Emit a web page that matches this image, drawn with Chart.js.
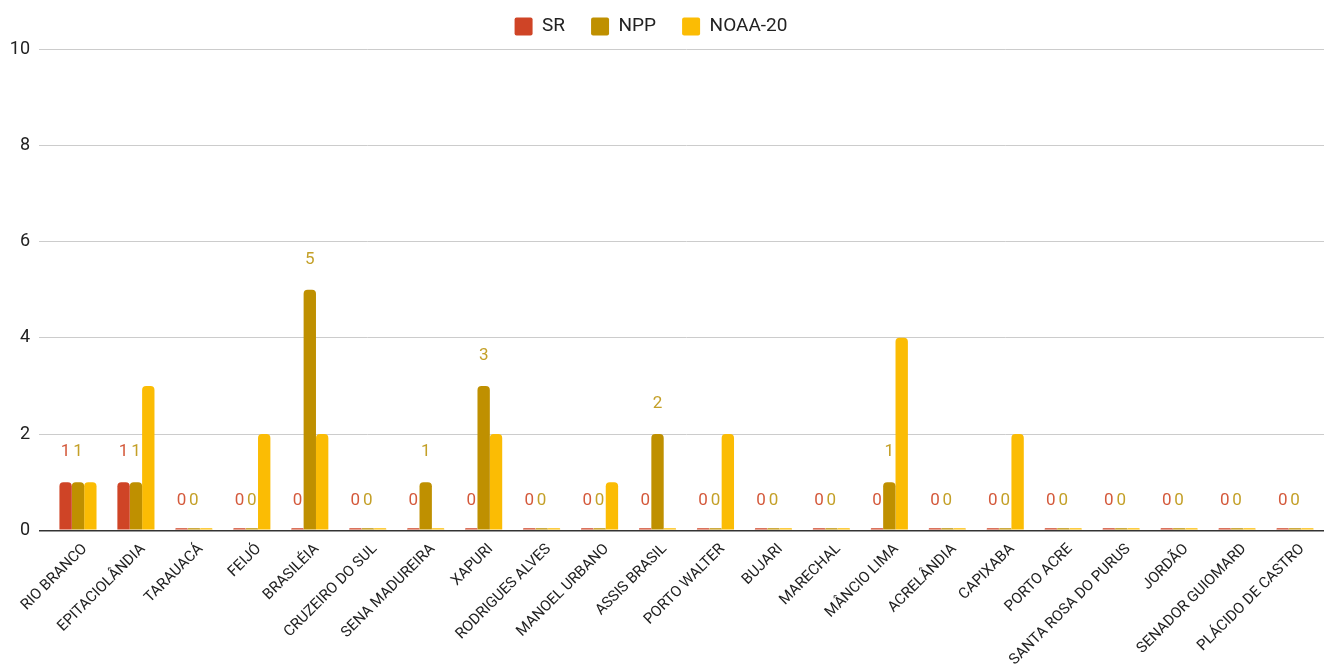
<!DOCTYPE html>
<html>
<head>
<meta charset="utf-8">
<script src="https://cdn.jsdelivr.net/npm/chart.js@4.4.1/dist/chart.umd.min.js"></script>
<style>
  html, body { margin: 0; padding: 0; background: #fff; }
  #wrap { width: 1324px; height: 667px; position: relative; }
</style>
</head>
<body>
<div id="wrap"><canvas id="chart"></canvas></div>
<script>
// Cities (categories)
const cities = [
    'RIO BRANCO', 'EPITACIOLÂNDIA', 'TARAUACÁ', 'FEIJÓ', 'BRASILÉIA', 'CRUZEIRO DO SUL',
    'SENA MADUREIRA', 'XAPURI', 'RODRIGUES ALVES', 'MANOEL URBANO', 'ASSIS BRASIL',
    'PORTO WALTER', 'BUJARI', 'MARECHAL', 'MÂNCIO LIMA', 'ACRELÂNDIA', 'CAPIXABA',
    'PORTO ACRE', 'SANTA ROSA DO PURUS', 'JORDÃO', 'SENADOR GUIOMARD', 'PLÁCIDO DE CASTRO'
];

// Series values
const srValues   = [1, 1, 0, 0, 0, 0, 0, 0, 0, 0, 0, 0, 0, 0, 0, 0, 0, 0, 0, 0, 0, 0];
const nppValues  = [1, 1, 0, 0, 5, 0, 1, 3, 0, 0, 2, 0, 0, 0, 1, 0, 0, 0, 0, 0, 0, 0];
const noaaValues = [1, 3, 0, 2, 2, 0, 0, 2, 0, 1, 0, 2, 0, 0, 4, 0, 2, 0, 0, 0, 0, 0];

// Y axis ticks
const yTicks = [0, 2, 4, 6, 8, 10];

const FONT = 'Roboto';

// Value labels above the SR and NPP bars
const valueLabels = {
    id: 'valueLabels',
    afterInit(chart) {
        const legend = chart.legend;
        if (legend) {
            // a bit more room under the legend
            const fit = legend.fit;
            legend.fit = function () {
                fit.call(this);
                this.height += 3;
            };
            // legend sits slightly left of the canvas centre
            const draw = legend.draw;
            legend.draw = function () {
                this.ctx.save();
                this.ctx.translate(-11, 0);
                draw.call(this);
                this.ctx.restore();
            };
        }
    },
    afterDatasetsDraw(chart) {
        const ctx = chart.ctx;
        const yScale = chart.scales.y;
        const labelColors = ['#d4593b', '#c4a028'];
        ctx.save();
        ctx.font = '17px ' + FONT;
        ctx.textAlign = 'center';
        ctx.textBaseline = 'middle';
        [0, 1].forEach(i => {
            const meta = chart.getDatasetMeta(i);
            const data = chart.data.datasets[i].data;
            ctx.fillStyle = labelColors[i];
            meta.data.forEach((bar, j) => {
                const y = yScale.getPixelForValue(data[j]) - 30;
                ctx.fillText(String(data[j]), bar.x, y);
            });
        });
        ctx.restore();
    }
};

const ctx = document.getElementById('chart').getContext('2d');
new Chart(ctx, {
    type: 'bar',
    data: {
        labels: cities,
        datasets: [
            { label: 'SR', data: srValues, backgroundColor: '#cf4426' },
            { label: 'NPP', data: nppValues, backgroundColor: '#bf9000' },
            { label: 'NOAA-20', data: noaaValues, backgroundColor: '#fbbc04' }
        ]
    },
    options: {
        responsive: true,
        maintainAspectRatio: false,
        animation: false,
        layout: { padding: { left: 0, right: 0, top: -9, bottom: -4 } },
        datasets: {
            bar: {
                categoryPercentage: 0.64,
                barPercentage: 1.0,
                borderRadius: { topLeft: 4, topRight: 4 },
                borderSkipped: 'bottom',
                minBarLength: 2
            }
        },
        plugins: {
            legend: {
                position: 'top',
                labels: {
                    boxWidth: 18,
                    boxHeight: 18,
                    useBorderRadius: true,
                    borderRadius: 2,
                    padding: 26,
                    color: '#222',
                    font: { family: FONT, size: 19 }
                }
            },
            tooltip: { enabled: false }
        },
        scales: {
            x: {
                grid: { display: false },
                border: { display: false },
                ticks: {
                    autoSkip: false,
                    minRotation: 45,
                    maxRotation: 45,
                    color: '#222',
                    padding: 2,
                    labelOffset: 7,
                    font: { family: FONT, size: 15 }
                }
            },
            y: {
                min: 0,
                max: 10,
                afterBuildTicks(axis) {
                    axis.ticks = yTicks.map(v => ({ value: v }));
                },
                afterFit(axis) {
                    axis.width = 49;
                },
                border: { display: false },
                grid: {
                    color: c => c.tick && c.tick.value === 0 ? '#333' : '#cccccc',
                    lineWidth: c => c.tick && c.tick.value === 0 ? 1.5 : 1,
                    tickLength: 10
                },
                ticks: {
                    color: '#222',
                    padding: 9,
                    font: { family: FONT, size: 18 }
                }
            }
        }
    },
    plugins: [valueLabels]
});
</script>
</body>
</html>
